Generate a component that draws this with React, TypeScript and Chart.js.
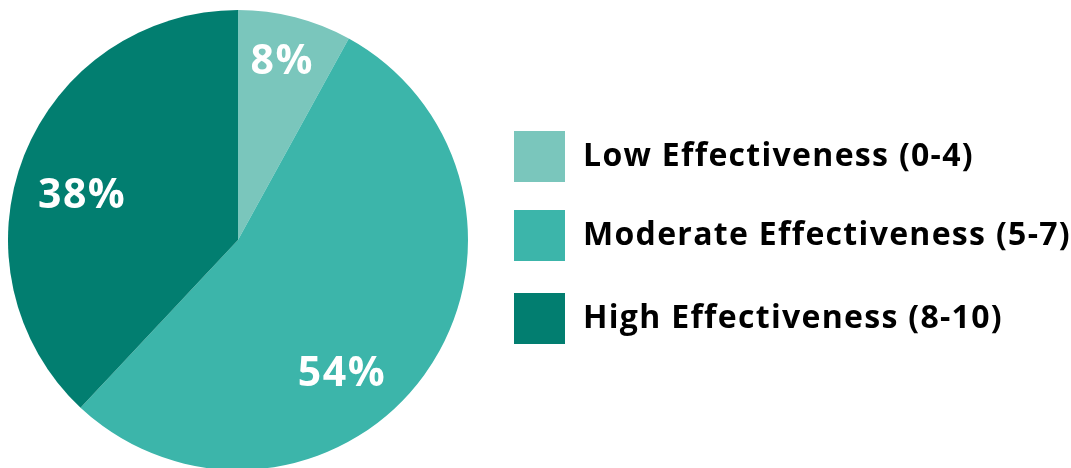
import React, { useEffect, useRef } from "react";
import { Chart, registerables } from "chart.js";

Chart.register(...registerables);

const categories = [
  "Low Effectiveness (0-4)",
  "Moderate Effectiveness (5-7)",
  "High Effectiveness (8-10)",
];
const shares = [8, 54, 38];
const sliceLabels = ["8%", "54%", "38%"];
const colors = ["#7AC6BC", "#3CB5AA", "#027E70"];

const W = 1071;
const H = 481;
const FONT = '"Open Sans", "DejaVu Sans", sans-serif';

// where each percentage label sits inside its slice (fraction of slice angle, fraction of radius)
const labelPlacement = [
  { frac: 0.479, r: 0.808 },
  { frac: 0.581, r: 0.73 },
  { frac: 0.465, r: 0.708 },
];

const legendTops = [131, 210, 293];

const sliceLabelPlugin = {
  id: "sliceLabels",
  afterDatasetsDraw(chart: any) {
    const ctx = chart.ctx;
    const meta = chart.getDatasetMeta(0);
    const size = 41;
    ctx.save();
    ctx.fillStyle = "#ffffff";
    ctx.font = `700 ${size}px ${FONT}`;
    (ctx as any).letterSpacing = "1.5px";
    ctx.textAlign = "center";
    ctx.textBaseline = "alphabetic";
    meta.data.forEach((arc: any, i: number) => {
      const { x, y, startAngle, endAngle, outerRadius } = arc.getProps(
        ["x", "y", "startAngle", "endAngle", "outerRadius"],
        true
      );
      const p = labelPlacement[i];
      const a = startAngle + (endAngle - startAngle) * p.frac;
      const r = outerRadius * p.r;
      ctx.fillText(sliceLabels[i], x + Math.cos(a) * r, y + Math.sin(a) * r + (size * 0.714) / 2);
    });
    ctx.restore();
  },
};

const sideLegendPlugin = {
  id: "sideLegend",
  afterDraw(chart: any) {
    const ctx = chart.ctx;
    const ds = chart.data.datasets[0];
    ctx.save();
    ctx.font = `700 32px ${FONT}`;
    (ctx as any).letterSpacing = "1.3px";
    ctx.textAlign = "left";
    ctx.textBaseline = "alphabetic";
    (chart.data.labels as string[]).forEach((lab, i) => {
      const top = legendTops[i];
      ctx.fillStyle = ds.backgroundColor[i];
      ctx.fillRect(514, top, 51, 51);
      ctx.fillStyle = "#000000";
      ctx.fillText(lab, 583, top + 35);
    });
    ctx.restore();
  },
};

export default function App() {
  const ref = useRef<HTMLCanvasElement | null>(null);

  useEffect(() => {
    if (!ref.current) return;
    const chart = new Chart(ref.current, {
      type: "pie",
      data: {
        labels: categories,
        datasets: [
          {
            data: shares,
            backgroundColor: colors,
            borderWidth: 0,
          },
        ],
      },
      options: {
        responsive: false,
        animation: false,
        layout: { padding: { left: 8, right: 603, top: 10, bottom: 11 } },
        plugins: {
          legend: { display: false },
          tooltip: { enabled: false },
        },
      },
      plugins: [sliceLabelPlugin, sideLegendPlugin],
    });
    return () => chart.destroy();
  }, []);

  return (
    <div
      style={{
        position: "absolute",
        left: 0,
        top: 0,
        width: W,
        height: 468,
        overflow: "hidden",
        background: "#ffffff",
      }}
    >
      <canvas ref={ref} width={W} height={H} style={{ display: "block" }} />
    </div>
  );
}
